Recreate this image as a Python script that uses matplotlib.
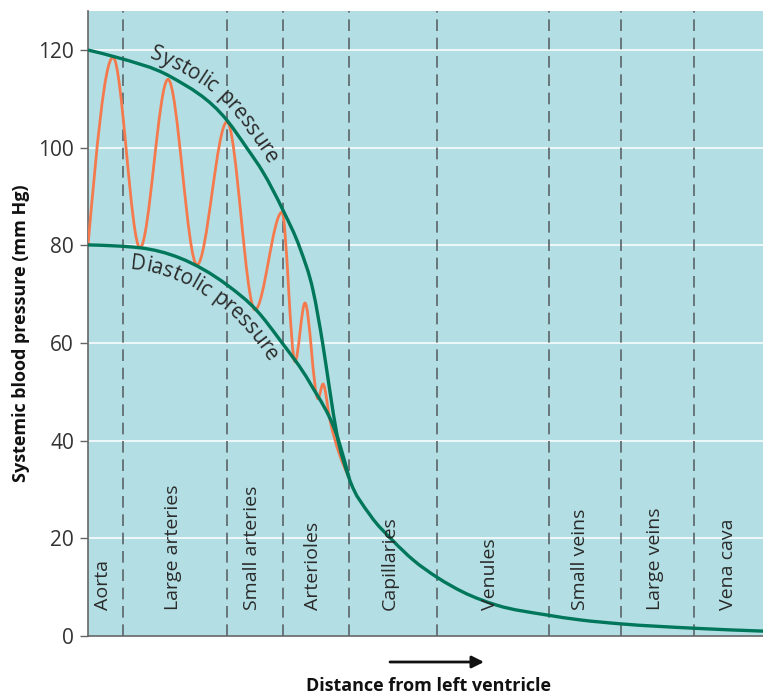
import numpy as np
import matplotlib.pyplot as plt
from matplotlib.path import Path
from matplotlib.patches import PathPatch
from matplotlib.font_manager import FontProperties

plt.rcParams['font.family'] = ['Open Sans', 'DejaVu Sans']

# distance along the circulation (arbitrary units), pressure in mm Hg
sys_x = [0, 27, 83, 139, 159, 175, 195, 212, 225, 235, 242, 249, 261,
         282, 305, 325, 350, 375, 409, 459, 492, 532, 605, 675]
sys_y = [120, 118.6, 114.5, 105.6, 99.9, 95, 87.2, 79.4, 70.8, 59.5, 50, 41.2, 32.4,
         24.8, 19.5, 15.6, 11.9, 9.0, 6.3, 4.3, 3.3, 2.5, 1.6, 1.0]

dia_x = [0, 52, 92, 139, 169, 192, 222, 252, 261]
dia_y = [80.1, 79.5, 77.4, 71.9, 66.6, 60.6, 51.8, 39.1, 32.4]

wave_x = [0, 25, 52, 80, 109, 139, 167, 194, 207, 217, 230, 235, 242, 261]
wave_y = [80, 118.5, 79.5, 114, 76, 105.3, 66.8, 86.8, 56.2, 68.2, 48.6, 51.6, 44.2, 32.4]

dividers = [35, 139, 195, 261, 349, 461, 533, 606]
regions = ["Aorta", "Large arteries", "Small arteries", "Arterioles", "Capillaries",
           "Venules", "Small veins", "Large veins", "Vena cava"]
region_x = [15, 85, 164, 225, 302, 402, 492, 567, 640]
yticks = [0, 20, 40, 60, 80, 100, 120]


def smooth_path(x, y):
    # monotone cubic drawn as bezier segments
    x = np.asarray(x, float)
    y = np.asarray(y, float)
    h = np.diff(x)
    d = np.diff(y) / h
    n = len(x)
    m = np.zeros(n)
    for i in range(1, n - 1):
        if d[i - 1] * d[i] <= 0:
            m[i] = 0
        else:
            p = (d[i - 1] * h[i] + d[i] * h[i - 1]) / (h[i - 1] + h[i])
            m[i] = (np.sign(d[i - 1]) + np.sign(d[i])) * min(abs(d[i - 1]), abs(d[i]), 0.5 * abs(p))
    m[0] = (3 * d[0] - m[1]) / 2
    m[-1] = (3 * d[-1] - m[-2]) / 2
    verts = [(x[0], y[0])]
    codes = [Path.MOVETO]
    for i in range(n - 1):
        verts += [(x[i] + h[i] / 3, y[i] + m[i] * h[i] / 3),
                  (x[i + 1] - h[i] / 3, y[i + 1] - m[i + 1] * h[i] / 3),
                  (x[i + 1], y[i + 1])]
        codes += [Path.CURVE4] * 3
    return Path(verts, codes)


def curved_text(ax, path, text, start_px, offset, size=15, spacing=0.0, color='#2a2a2a'):
    # lay the characters along the curve, offset (pixels) to its left side
    pts = []
    for bez, code in path.iter_bezier():
        if code == Path.MOVETO:
            continue
        pts.append(bez(np.linspace(0, 1, 40))[1:])
    pts = ax.transData.transform(np.vstack(pts))
    tang = np.gradient(pts, axis=0)
    tang /= np.hypot(tang[:, 0], tang[:, 1])[:, None]
    norm = np.column_stack([-tang[:, 1], tang[:, 0]])
    pts = pts + norm * offset
    seg = np.hypot(*np.diff(pts, axis=0).T)
    s = np.concatenate([[0], np.cumsum(seg)])
    ang = np.degrees(np.arctan2(tang[:, 1], tang[:, 0]))
    pos = s[np.argmin(np.abs(pts[:, 0] - start_px))]
    prop = FontProperties(family=['Open Sans', 'DejaVu Sans'], size=size)
    rend = ax.figure.canvas.get_renderer()
    inv = ax.transData.inverted()
    for ch in text:
        w = rend.get_text_width_height_descent(ch, prop, ismath=False)[0]
        xy = np.array([np.interp(pos, s, pts[:, 0]), np.interp(pos, s, pts[:, 1])])
        a = np.interp(pos + w / 2, s, ang)
        dx, dy = inv.transform(xy)
        ax.text(dx, dy, ch, rotation=a, rotation_mode='anchor', ha='left', va='baseline',
                fontproperties=prop, color=color, zorder=5)
        pos += w + spacing


fig = plt.figure(figsize=(7.63, 6.95), dpi=100)
ax = fig.add_axes([88 / 763, 59 / 695, 675 / 763, 625 / 695])
ax.set_facecolor('#b3dfe4')
ax.set_xlim(0, 675)
ax.set_ylim(0, 128)

for v in yticks[1:]:
    ax.axhline(v, color='white', lw=1.3, alpha=0.85, zorder=1)
for d in dividers:
    ax.axvline(d, color='#5a6468', lw=1.2, ls=(0, (7, 4)), zorder=2)

green = '#00775b'
orange = '#f47a4e'
sys_path = smooth_path(sys_x, sys_y)
dia_path = smooth_path(dia_x, dia_y)
ax.add_patch(PathPatch(smooth_path(wave_x, wave_y), fill=False, ec=orange, lw=2, zorder=3))
ax.add_patch(PathPatch(sys_path, fill=False, ec=green, lw=2.4, zorder=4))
ax.add_patch(PathPatch(dia_path, fill=False, ec=green, lw=2.4, zorder=4))

curved_text(ax, sys_path, "Systolic pressure", 150, 8.5)
curved_text(ax, dia_path, "Diastolic pressure", 130, -22)

for name, x in zip(regions, region_x):
    ax.text(x, 5.3, name, rotation=90, ha='center', va='bottom',
            fontsize=14, color='#2a2a2a', zorder=5)

ax.set_xticks([])
ax.set_yticks(yticks)
ax.tick_params(axis='y', length=6, width=1, color='#666666', labelsize=15,
               labelcolor='#333333', pad=4)
for s in ['top', 'right']:
    ax.spines[s].set_visible(False)
ax.spines['left'].set_color('#666666')
ax.spines['bottom'].set_color('#666666')
ax.spines['left'].set_linewidth(1.2)
ax.spines['bottom'].set_linewidth(1.2)

fig.text(21 / 763, 1 - 333 / 695, "Systemic blood pressure (mm Hg)", rotation=90,
         ha='center', va='center', fontsize=13, fontweight='bold', color='#111111')
fig.text(429 / 763, 1 - 686 / 695, "Distance from left ventricle",
         ha='center', va='center', fontsize=13, fontweight='bold', color='#111111')
ax.annotate("", xy=(484 / 763, 1 - 662 / 695), xytext=(390 / 763, 1 - 662 / 695),
            xycoords='figure fraction', textcoords='figure fraction',
            arrowprops=dict(arrowstyle='-|>', lw=2, color='#111111', mutation_scale=18,
                            shrinkA=0, shrinkB=0))

fig.savefig('out.png', dpi=100)
